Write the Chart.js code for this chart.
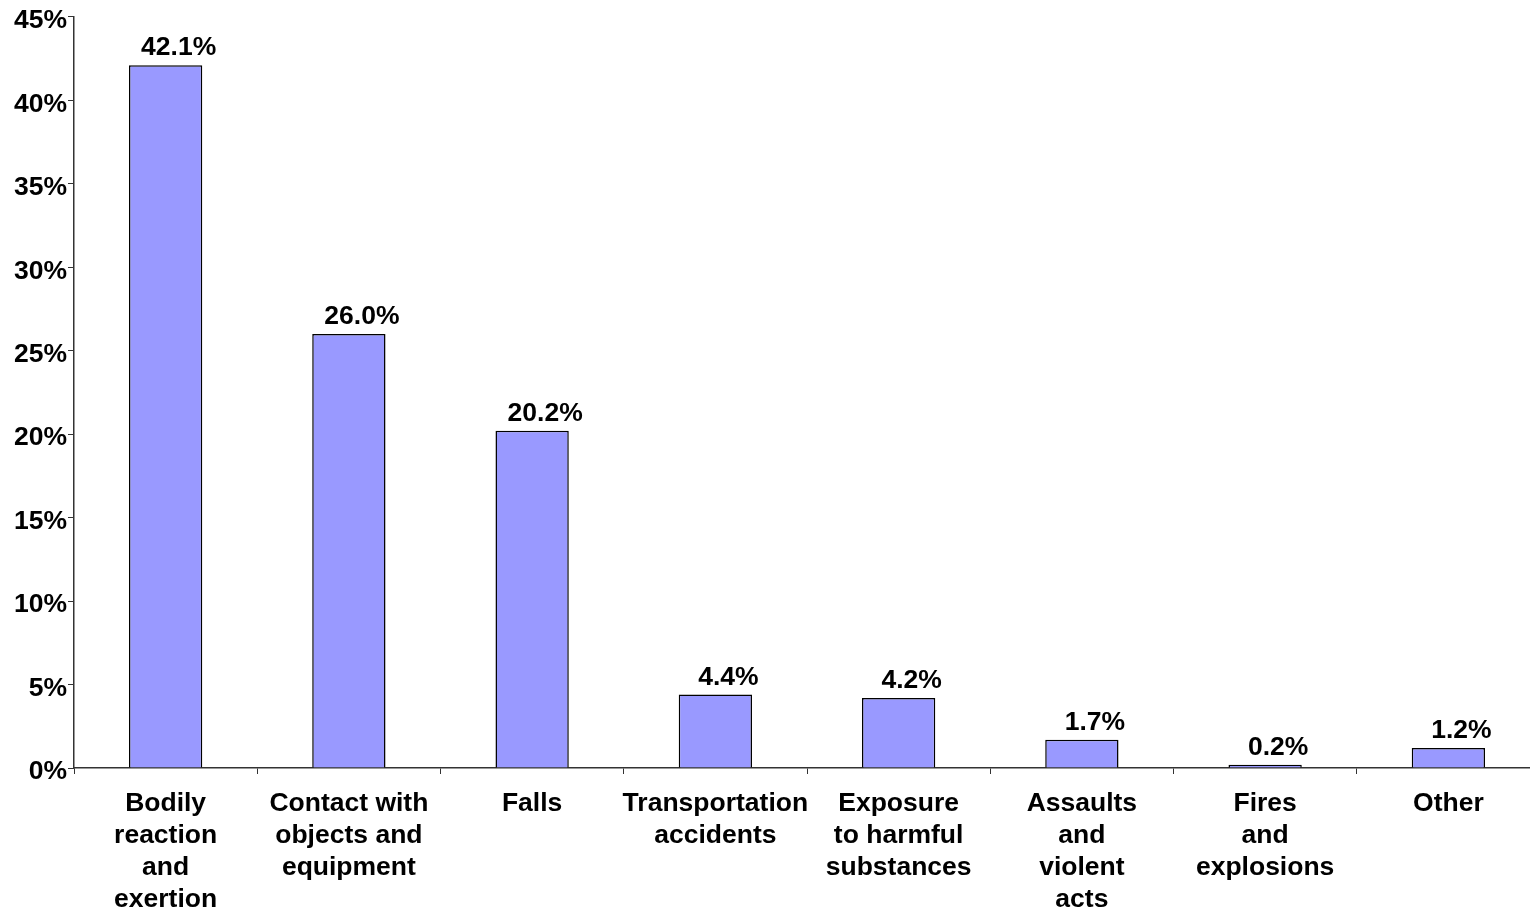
<!DOCTYPE html>
<html>
<head>
<meta charset="utf-8">
<script src="https://cdn.jsdelivr.net/npm/chart.js@4.4.0/dist/chart.umd.min.js"></script>
<style>
  html, body { margin: 0; padding: 0; background: #fff; overflow: hidden; }
  #wrap { width: 1540px; height: 914px; }
</style>
</head>
<body>
<div id="wrap"><canvas id="myChart"></canvas></div>
<script>
// Data
var categories = [
    ["Bodily", "reaction", "and", "exertion"],
    ["Contact with", "objects and", "equipment"],
    ["Falls"],
    ["Transportation", "accidents"],
    ["Exposure", "to harmful", "substances"],
    ["Assaults", "and", "violent", "acts"],
    ["Fires", "and", "explosions"],
    ["Other"]
];
var shares = [42.1, 26.0, 20.2, 4.4, 4.2, 1.7, 0.2, 1.2];
var yTicks = [0, 5, 10, 15, 20, 25, 30, 35, 40, 45];

Chart.defaults.font.family = "'Liberation Sans', Arial, sans-serif";
Chart.defaults.font.weight = "bold";
Chart.defaults.color = "#000";

// Value labels above bars
var valueLabels = {
    id: "valueLabels",
    afterDatasetsDraw: function(chart) {
        var ctx = chart.ctx;
        var meta = chart.getDatasetMeta(0);
        ctx.save();
        ctx.font = "bold 26.5px 'Liberation Sans', Arial, sans-serif";
        ctx.fillStyle = "#000";
        ctx.textAlign = "center";
        ctx.textBaseline = "alphabetic";
        meta.data.forEach(function(bar, i) {
            ctx.fillText(shares[i].toFixed(1) + "%", bar.x + 13, bar.y - 10);
        });
        ctx.restore();
    }
};

var ctx = document.getElementById("myChart").getContext("2d");
var chart = new Chart(ctx, {
    type: "bar",
    data: {
        labels: categories,
        datasets: [{
            data: shares,
            backgroundColor: "#9999FF",
            borderColor: "#000",
            borderWidth: 1.5,
            categoryPercentage: 0.4,
            barPercentage: 1.0
        }]
    },
    options: {
        responsive: true,
        maintainAspectRatio: false,
        animation: false,
        layout: { padding: { top: 2, right: 0, left: 0, bottom: 0 } },
        plugins: {
            legend: { display: false },
            tooltip: { enabled: false }
        },
        scales: {
            x: {
                offset: true,
                grid: {
                    offset: true,
                    drawOnChartArea: false,
                    drawTicks: true,
                    tickLength: 6,
                    color: "#333"
                },
                border: { color: "#333", width: 1.5 },
                ticks: {
                    font: { size: 26.5, weight: "bold", lineHeight: 1.2 },
                    color: "#000",
                    maxRotation: 0,
                    autoSkip: false,
                    padding: 14
                },
                afterFit: function(scale) { scale.height = 146; }
            },
            y: {
                min: 0,
                max: 45,
                afterBuildTicks: function(scale) {
                    scale.ticks = yTicks.map(function(v) { return { value: v }; });
                },
                grid: {
                    drawOnChartArea: false,
                    drawTicks: true,
                    tickLength: 6,
                    color: "#333"
                },
                border: { color: "#333", width: 1.5 },
                ticks: {
                    font: { size: 26.5, weight: "bold" },
                    color: "#000",
                    padding: 1,
                    labelOffset: 4,
                    callback: function(v) { return v + "%"; }
                },
                afterFit: function(scale) { scale.width = 74; }
            }
        }
    },
    plugins: [valueLabels]
});
</script>
</body>
</html>
